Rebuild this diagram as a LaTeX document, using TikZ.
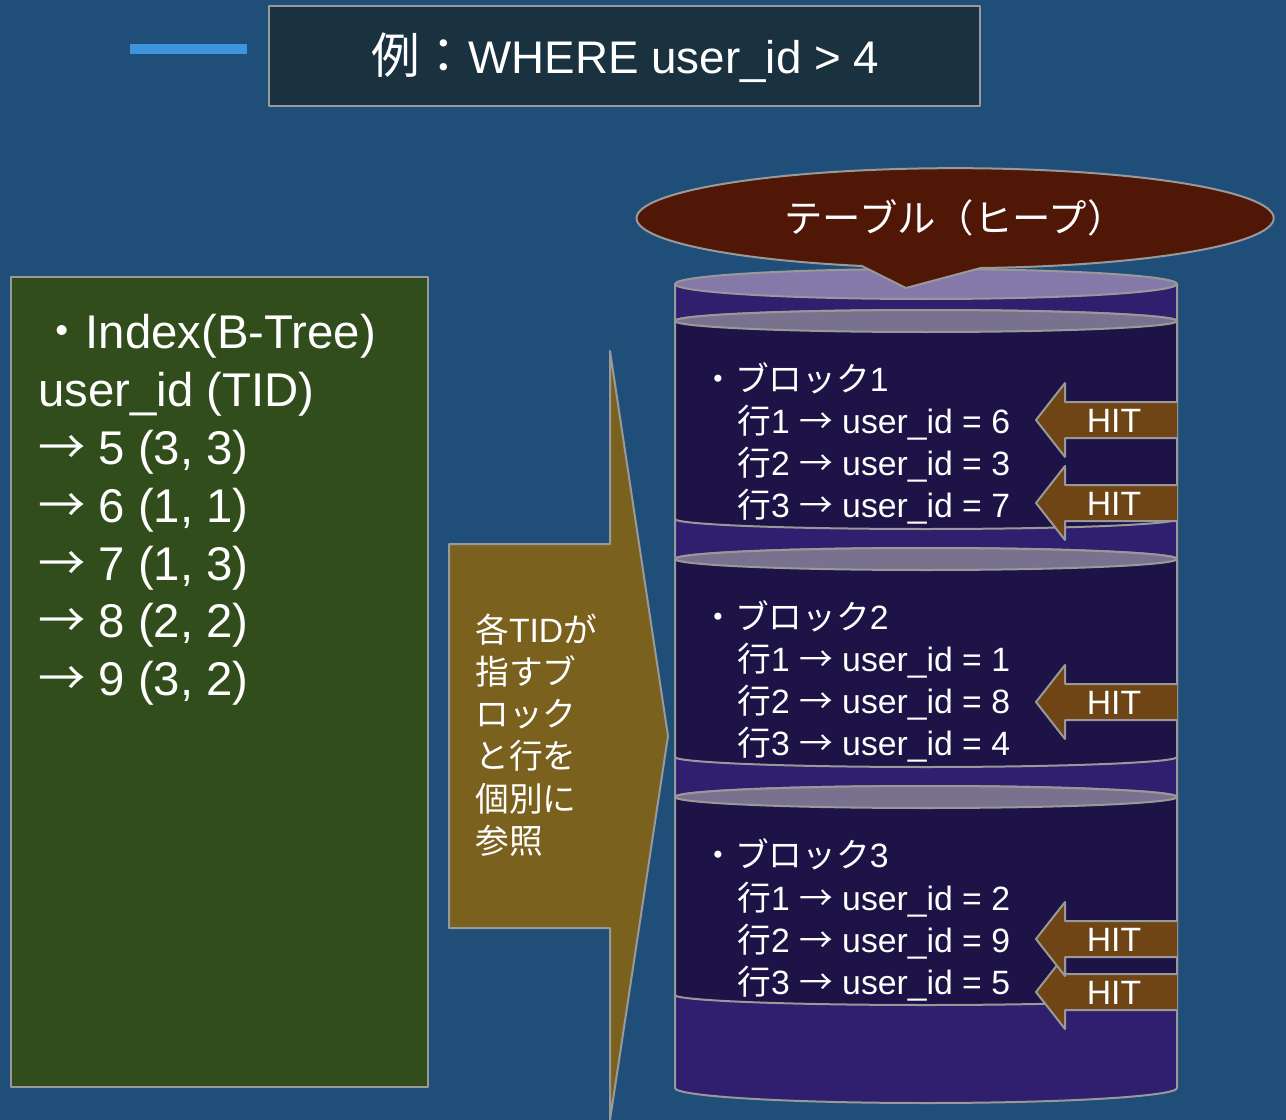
\documentclass[tikz,border=0pt]{standalone}
\usepackage{fontspec}
\setmainfont{Liberation Sans}
\newfontfamily\jp{Noto Sans CJK JP}
\definecolor{bgblue}{HTML}{1F4E79}
\definecolor{titlebox}{HTML}{1A323F}
\definecolor{dashblue}{HTML}{3E95DC}
\definecolor{indexgreen}{HTML}{314D1C}
\definecolor{pointerbrown}{HTML}{7B611E}
\definecolor{heapred}{HTML}{501606}
\definecolor{tankside}{HTML}{2F1F6E}
\definecolor{blockfill}{HTML}{1D1346}
\definecolor{tanktop}{HTML}{8579A9}
\definecolor{blocktop}{HTML}{79728F}
\definecolor{hitbrown}{HTML}{6F4516}
\definecolor{edgegrey}{HTML}{999999}
\tikzset{
  shape line/.style={draw=edgegrey,line width=1.5pt,line join=round},
  big text/.style={text=white,font=\fontsize{35.5}{36}\selectfont,anchor=base west,inner sep=0pt},
  mid text/.style={text=white,font=\fontsize{25.3}{25.5}\selectfont,anchor=base west,inner sep=0pt},
}
\begin{document}
\begin{tikzpicture}[x=0.75pt,y=-0.75pt]
\useasboundingbox (0,0) rectangle (1286,1120);
\fill[bgblue] (0,0) rectangle (1286,1120);
% title
\fill[dashblue] (130,44) rectangle (247,54);
\draw[shape line,fill=titlebox] (269,6) rectangle (980,106);
\node[big text] (title) at (371,74) {{\fontsize{36.5}{36}\selectfont\jp 例：}{\fontsize{34.3}{36}\selectfont WHERE user\_id > 4}};
% index
\draw[shape line,fill=indexgreen] (11,277) rectangle (428,1087);
\node[big text] (idxhead) at (38,348) {{\jp ・}Index(B-Tree)};
\node[big text] (idxcol) at (38,406) {user\_id (TID)};
\foreach \i/\y/\t in {1/464/{5 (3, 3)},2/522/{6 (1, 1)},3/580/{7 (1, 3)},4/637/{8 (2, 2)},5/695/{9 (3, 2)}}
  \node[big text] (idx\i) at (38,\y) {{\jp →} \t};
% pointer callout
\draw[shape line,fill=pointerbrown] (449,544) -- (610,544) -- (610,351) -- (668,736) -- (610,1120) -- (610,928) -- (449,928) -- cycle;
\foreach \i/\y/\t in {1/642/各{\rmfamily TID}が,2/684/指すブ,3/726/ロック,4/768/と行を,5/811/個別に,6/853/参照}
  \node[mid text] (ptr\i) at (475,\y) {\jp \t};
% tank
\draw[shape line,fill=tankside] (675,284) -- (675,1088) arc[start angle=180,end angle=0,x radius=251,y radius=15] -- (1177,284) -- cycle;
\draw[shape line,fill=tanktop] (926,284) ellipse [x radius=251,y radius=15];
\foreach \i/\y in {1/321,2/559,3/797}{
  \draw[shape line,fill=blockfill] (675,\y) -- (675,\y+198) arc[start angle=180,end angle=0,x radius=251,y radius=10] -- (1177,\y) arc[start angle=360,end angle=180,x radius=251,y radius=11] -- cycle;
  \draw[shape line,fill=blocktop] (926,\y) ellipse [x radius=251,y radius=11];
  \node[mid text] (blk\i) at (701,\y+70) {{\jp ・ブロック}\i};
}
% rows
\foreach \i/\y/\r/\t in {1/433/1/6,2/475/2/3,3/517/3/7,4/671/1/1,5/713/2/8,6/755/3/4,7/910/1/2,8/952/2/9,9/994/3/5}
  \node[mid text] (row\i) at (737,\y) {{\jp 行}\r\ {\jp →} user\_id = \t};
% hits
\foreach \i/\y in {5/992,4/939,3/702,2/503,1/420}{
  \draw[shape line,fill=hitbrown] (1177,\y-18) -- (1065,\y-18) -- (1065,\y-37) -- (1036,\y) -- (1065,\y+37) -- (1065,\y+18) -- (1177,\y+18);
  \node[mid text,anchor=center] (hit\i) at (1114,\y+1) {HIT};
}
% heap callout
\draw[shape line,fill=heapred] (862,266) arc[start angle=107,end angle=445.4,x radius=318.5,y radius=50] -- (906,288) -- cycle;
\node[text=white,font=\fontsize{28.8}{28.8}\selectfont\jp] (heap) at (955,218) {テーブル（ヒープ）};
\end{tikzpicture}
\end{document}
